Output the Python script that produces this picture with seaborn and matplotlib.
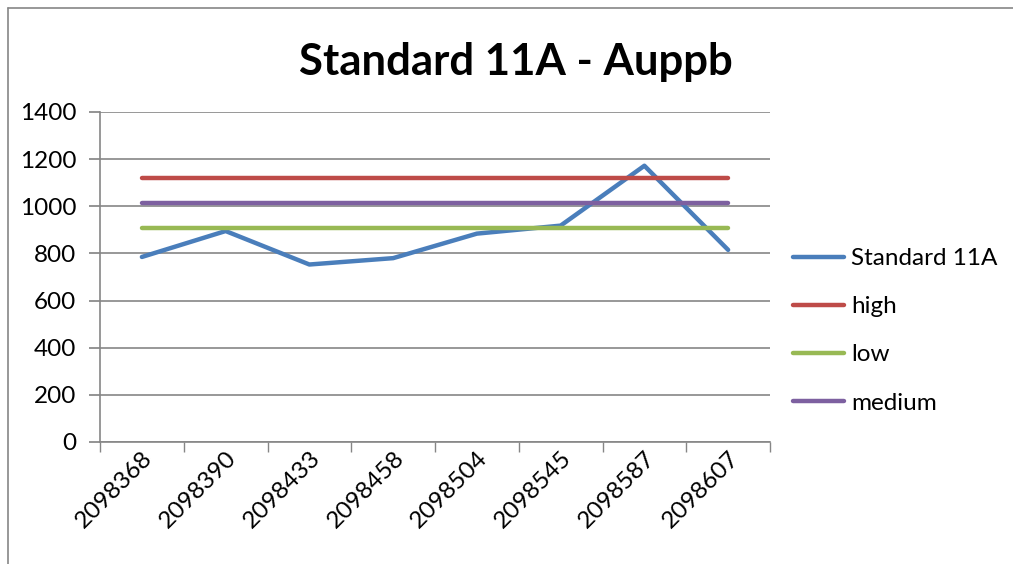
import matplotlib
matplotlib.use("Agg")
import matplotlib.pyplot as plt
from matplotlib.lines import Line2D
from matplotlib.ticker import FixedLocator
import seaborn as sns
import pandas as pd
import numpy as np

categories = ["2098368", "2098390", "2098433", "2098458", "2098504", "2098545", "2098587", "2098607"]
standard = [785, 895, 753, 780, 884, 918, 1172, 815]
high = [1120] * 8
low = [908] * 8
medium = [1014] * 8
series_names = ["Standard 11A", "high", "low", "medium"]
colors = ["#4a7ebb", "#be4b48", "#98b954", "#7d60a0"]
yticks = [0, 200, 400, 600, 800, 1000, 1200, 1400]

sns.set_theme(style="white")
plt.rcParams["font.family"] = ["Lato", "DejaVu Sans"]
plt.rcParams["text.color"] = "black"
plt.rcParams["xtick.color"] = "black"
plt.rcParams["ytick.color"] = "black"

rows = []
for name, vals in zip(series_names, [standard, high, low, medium]):
    for i, v in enumerate(vals):
        rows.append({"x": i, "value": v, "series": name})
df = pd.DataFrame(rows)

FS = 17.5
fig = plt.figure(figsize=(10.13, 5.64), dpi=100)
ax = fig.add_axes([100/1013, 1-442/564, 670/1013, 330/564])

sns.lineplot(data=df, x="x", y="value", hue="series", hue_order=series_names,
             palette=colors, linewidth=3.2, ax=ax, legend=False, sort=False)
for l in ax.lines:
    l.set_solid_capstyle("round")
    l.set_solid_joinstyle("round")

ax.set_xlim(-0.5, 7.5)
ax.set_ylim(0, 1400)
ax.set_yticks(yticks)
ax.set_yticklabels([str(t) for t in yticks], fontsize=FS)
ax.set_xticks(np.arange(len(categories)))
ax.set_xticklabels(categories, rotation=45, ha="right", rotation_mode="anchor", fontsize=FS)
ax.tick_params(axis="x", which="major", length=0, pad=4, colors="black")
ax.tick_params(axis="y", length=8, color="#868686", labelcolor="black", direction="out", pad=9, left=True)
ax.xaxis.set_minor_locator(FixedLocator(np.arange(-0.5, 8.0, 1.0)))
ax.tick_params(axis="x", which="minor", length=7, color="#868686", direction="out", bottom=True)

ax.grid(axis="y", color="#868686", linewidth=1.2)
ax.grid(axis="x", visible=False)
ax.set_axisbelow(True)
for s in ["top", "right"]:
    ax.spines[s].set_visible(False)
for s in ["left", "bottom"]:
    ax.spines[s].set_color("#868686")
    ax.spines[s].set_linewidth(1.2)
ax.set_xlabel("")
ax.set_ylabel("")

fig.text(516/1013, 1-62/564, "Standard 11A - Auppb", ha="center", va="center",
         fontsize=31.5, fontweight="bold", color="black")

handles = [Line2D([0], [0], color=c, lw=3.2, solid_capstyle="round") for c in colors]
leg = fig.legend(handles, series_names, loc="upper left", bbox_to_anchor=(793/1013, 1-248/564),
                 frameon=False, fontsize=FS, handlelength=2.1, handletextpad=0.3,
                 labelspacing=1.12, borderaxespad=0, borderpad=0)

fig.add_artist(Line2D([8/1013, 8/1013], [0, 1-8/564], color="#868686", lw=1.2))
fig.add_artist(Line2D([8/1013, 1], [1-8/564, 1-8/564], color="#868686", lw=1.2))

fig.savefig("out.png", dpi=100)
